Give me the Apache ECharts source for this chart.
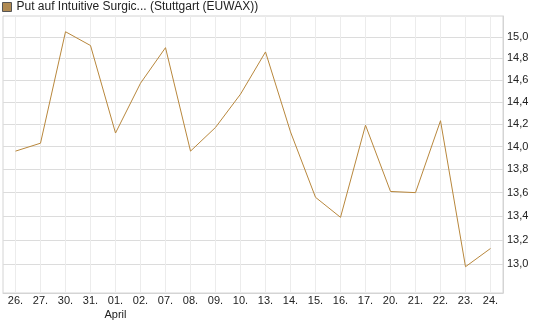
<!DOCTYPE html>
<html>
<head>
<meta charset="utf-8">
<script src="https://cdn.jsdelivr.net/npm/echarts@6/dist/echarts.min.js"></script>
<style>
  html, body { margin: 0; padding: 0; background: #fff; }
  #chart { width: 545px; height: 327px; }
</style>
</head>
<body>
<div id="chart"></div>
<script>
// Tageskurse (Stuttgart EUWAX)
const days = ['26.', '27.', '30.', '31.', '01.', '02.', '07.', '08.', '09.', '10.',
              '13.', '14.', '15.', '16.', '17.', '20.', '21.', '22.', '23.', '24.'];
const prices = [13.96, 14.03, 15.05, 14.92, 14.12, 14.57, 14.90, 13.96, 14.17, 14.47,
                14.86, 14.13, 13.56, 13.39, 14.19, 13.61, 13.60, 14.23, 12.98, 13.13];
const yTicks = [13.0, 13.2, 13.4, 13.6, 13.8, 14.0, 14.2, 14.4, 14.6, 14.8, 15.0];
const seriesName = 'Put auf Intuitive Surgic... (Stuttgart (EUWAX))';
const monthLabel = { '01.': 'April' };

const font = 'Liberation Sans, Arial, sans-serif';
const lineColor = '#b8873c';

const chart = echarts.init(document.getElementById('chart'));
chart.setOption({
    animation: false,
    textStyle: { fontFamily: font },
    legend: {
        left: 2, top: 1, padding: 0,
        itemWidth: 9, itemHeight: 9,
        icon: 'rect',
        textStyle: { fontSize: 12, color: '#222', fontFamily: font },
        data: [{ name: seriesName, itemStyle: { color: '#b08a52', borderColor: '#555', borderWidth: 1 } }]
    },
    grid: {
        left: 3, right: 42, top: 16, bottom: 34,
        show: true, borderColor: '#d4d4d4', borderWidth: 1
    },
    xAxis: {
        type: 'category',
        data: days,
        boundaryGap: true,
        axisLine: { lineStyle: { color: '#d4d4d4' } },
        axisTick: { show: false },
        axisLabel: {
            interval: 0, margin: 1, fontSize: 11, color: '#222', lineHeight: 14,
            formatter: v => monthLabel[v] ? v + '\n' + monthLabel[v] : v
        },
        splitLine: { show: true, interval: 0, alignWithLabel: true, lineStyle: { color: '#ececec' } }
    },
    yAxis: {
        type: 'log',
        position: 'right',
        min: 12.767, max: 15.2,
        axisLine: { show: true, lineStyle: { color: '#d4d4d4' } },
        axisTick: { show: false, customValues: yTicks },
        axisLabel: {
            customValues: yTicks, margin: 4, fontSize: 11, color: '#222',
            formatter: v => v.toFixed(1).replace('.', ',')
        },
        splitLine: { show: true, lineStyle: { color: '#dcdcdc' } }
    },
    series: [{
        name: seriesName,
        type: 'line',
        data: prices,
        showSymbol: false,
        symbol: 'none',
        lineStyle: { color: lineColor, width: 1 },
        itemStyle: { color: lineColor }
    }]
});
</script>
</body>
</html>
